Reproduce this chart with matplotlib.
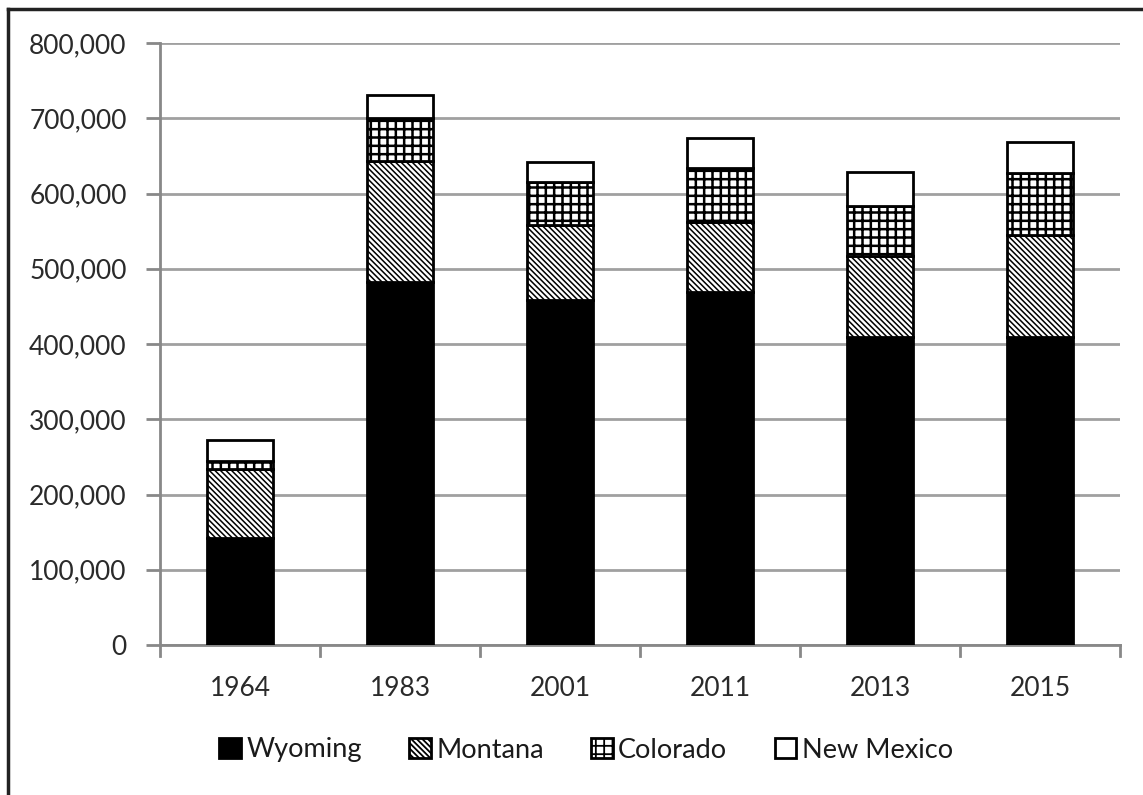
import matplotlib
matplotlib.use("Agg")
import matplotlib.pyplot as plt
from matplotlib.lines import Line2D
from matplotlib.ticker import FuncFormatter, MultipleLocator
import numpy as np

years = ["1964", "1983", "2001", "2011", "2013", "2015"]
wyoming = [142000, 483000, 459000, 469000, 409000, 409000]
montana = [92000, 160000, 99000, 93000, 108000, 136000]
colorado = [11000, 57000, 57000, 72000, 66000, 82000]
new_mexico = [28000, 31000, 27000, 40000, 45000, 41000]
series_names = ["Wyoming", "Montana", "Colorado", "New Mexico"]

plt.rcParams['font.family'] = ['Lato', 'DejaVu Sans']
plt.rcParams['hatch.linewidth'] = 1.3

W, H = 1143, 795
fig = plt.figure(figsize=(W / 100, H / 100), dpi=100)
ax = fig.add_axes([160 / W, 1 - 645 / H, (1120 - 160) / W, (645 - 43) / H])

x = np.arange(len(years))
width = 0.41
styles = [
    dict(color="black", hatch=None, hlw=1.3),
    dict(color="white", hatch="\\\\\\\\\\\\", hlw=1.1),
    dict(color="white", hatch="++", hlw=1.8),
    dict(color="white", hatch=None, hlw=1.3),
]
bottom = np.zeros(len(years))
handles = []
for name, vals, st in zip(series_names, [wyoming, montana, colorado, new_mexico], styles):
    vals = np.array(vals, dtype=float)
    b = ax.bar(x, vals, width, bottom=bottom, color=st["color"], edgecolor="black",
               hatch=st["hatch"], linewidth=2, label=name, zorder=3)
    for p in b.patches:
        try:
            p.set_hatch_linewidth(st["hlw"])
        except Exception:
            pass
    handles.append(b)
    bottom += vals

ax.set_xlim(-0.5, len(years) - 0.5)
ax.set_ylim(0, 800000)
ax.yaxis.set_major_locator(MultipleLocator(100000))
ax.yaxis.set_major_formatter(FuncFormatter(lambda v, p: f"{int(v):,}"))
ax.grid(axis="y", color="#a0a0a0", linewidth=2, zorder=0)
ax.set_axisbelow(True)

for s in ["top", "right"]:
    ax.spines[s].set_visible(False)
for s in ["left", "bottom"]:
    ax.spines[s].set_color("#888888")
    ax.spines[s].set_linewidth(2)

ax.set_xticks(x)
ax.set_xticklabels(years)
ax.tick_params(axis="x", length=0, labelsize=19, colors="#2a2a2a", pad=22)
ax.tick_params(axis="y", length=10, width=2, color="#888888", labelsize=19,
               labelcolor="#2a2a2a", pad=14)
# category separator ticks on x axis
for bnd in np.arange(-0.5, len(years), 1.0):
    ax.plot([bnd, bnd], [0, -14000], color="#888888", linewidth=2, clip_on=False,
            zorder=2)

leg = fig.legend(handles=handles, labels=series_names, loc="center",
                 bbox_to_anchor=(586 / W, 1 - 750 / H), ncol=4, frameon=False,
                 fontsize=19.5, handlelength=0.8, handleheight=0.8,
                 handletextpad=0.2, columnspacing=1.75)
for t in leg.get_texts():
    t.set_color("#1a1a1a")

# outer frame (top and left)
fig.add_artist(Line2D([8 / W, 8 / W], [0, 1 - 9 / H], color="#222222", linewidth=2.5,
                      transform=fig.transFigure))
fig.add_artist(Line2D([8 / W, 1], [1 - 9 / H, 1 - 9 / H], color="#222222", linewidth=2.5,
                      transform=fig.transFigure))

fig.savefig("out.png", dpi=100)
